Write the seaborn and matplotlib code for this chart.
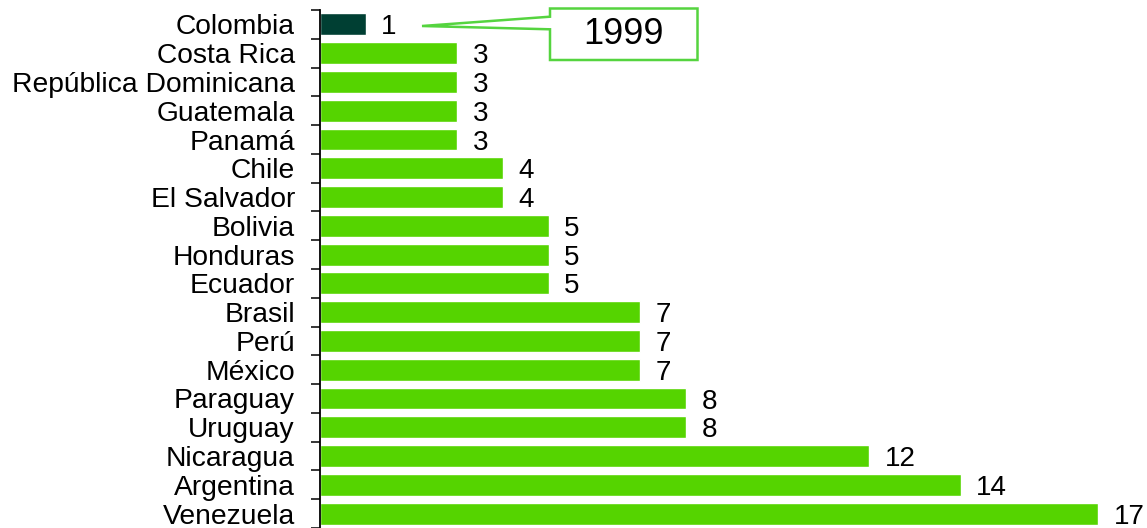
import matplotlib
matplotlib.use("Agg")
import matplotlib.pyplot as plt
import seaborn as sns
import numpy as np
from matplotlib.patches import Polygon

countries = ["Colombia", "Costa Rica", "República Dominicana", "Guatemala", "Panamá",
             "Chile", "El Salvador", "Bolivia", "Honduras", "Ecuador", "Brasil", "Perú",
             "México", "Paraguay", "Uruguay", "Nicaragua", "Argentina", "Venezuela"]
values = [1, 3, 3, 3, 3, 4, 4, 5, 5, 5, 7, 7, 7, 8, 8, 12, 14, 17]
year_label = "1999"

green = "#55d400"
dark = "#003f33"
bar_colors = [dark] + [green] * (len(countries) - 1)

sns.set_style("white")
plt.rcParams["font.family"] = ["Liberation Sans", "DejaVu Sans"]
plt.rcParams["text.color"] = "black"
plt.rcParams["ytick.color"] = "black"

fig = plt.figure(figsize=(11.47, 5.28), dpi=100)
ax = fig.add_axes([320 / 1147, 0.0, (1144 - 320) / 1147, 518 / 528])

sns.barplot(x=values, y=countries, hue=countries, palette=bar_colors, orient="h",
            width=0.76, legend=False, saturation=1, ax=ax)

for c in ax.containers:
    for t in ax.bar_label(c, padding=11, fontsize=20, color="black"):
        t.xyann = (11, -2.2)

ax.set_xlim(0, 18)
ax.set_ylim(len(countries) - 0.5, -0.5)
ax.set_xlabel("")
ax.set_ylabel("")
ax.set_xticks([])
ax.set_yticks(range(len(countries)))
ax.set_yticklabels(countries, fontsize=20.3, color="black")
ax.set_yticks(np.arange(-0.5, len(countries), 1), minor=True)
ax.tick_params(axis="y", which="major", length=0, pad=18)
ax.tick_params(axis="y", which="minor", length=6.5, width=1.1, color="black", left=True)
for s in ["top", "right", "bottom"]:
    ax.spines[s].set_visible(False)
ax.spines["left"].set_color("black")
ax.spines["left"].set_linewidth(1.3)

# callout box
W, H = 1147, 528
pts = [(550, 8.5), (697.5, 8.5), (697.5, 60), (550, 60), (550, 29.3), (422, 26), (550, 16.7)]
pts = [(x / W, 1 - y / H) for x, y in pts]
fig.patches.append(Polygon(pts, closed=True, facecolor="white", edgecolor="#55d43f",
                           linewidth=1.8, transform=fig.transFigure, figure=fig))
fig.text((550 + 697.5) / 2 / W, 1 - 35 / H, year_label, fontsize=26, ha="center",
         va="center", color="black")

fig.savefig("out.png", dpi=100)
